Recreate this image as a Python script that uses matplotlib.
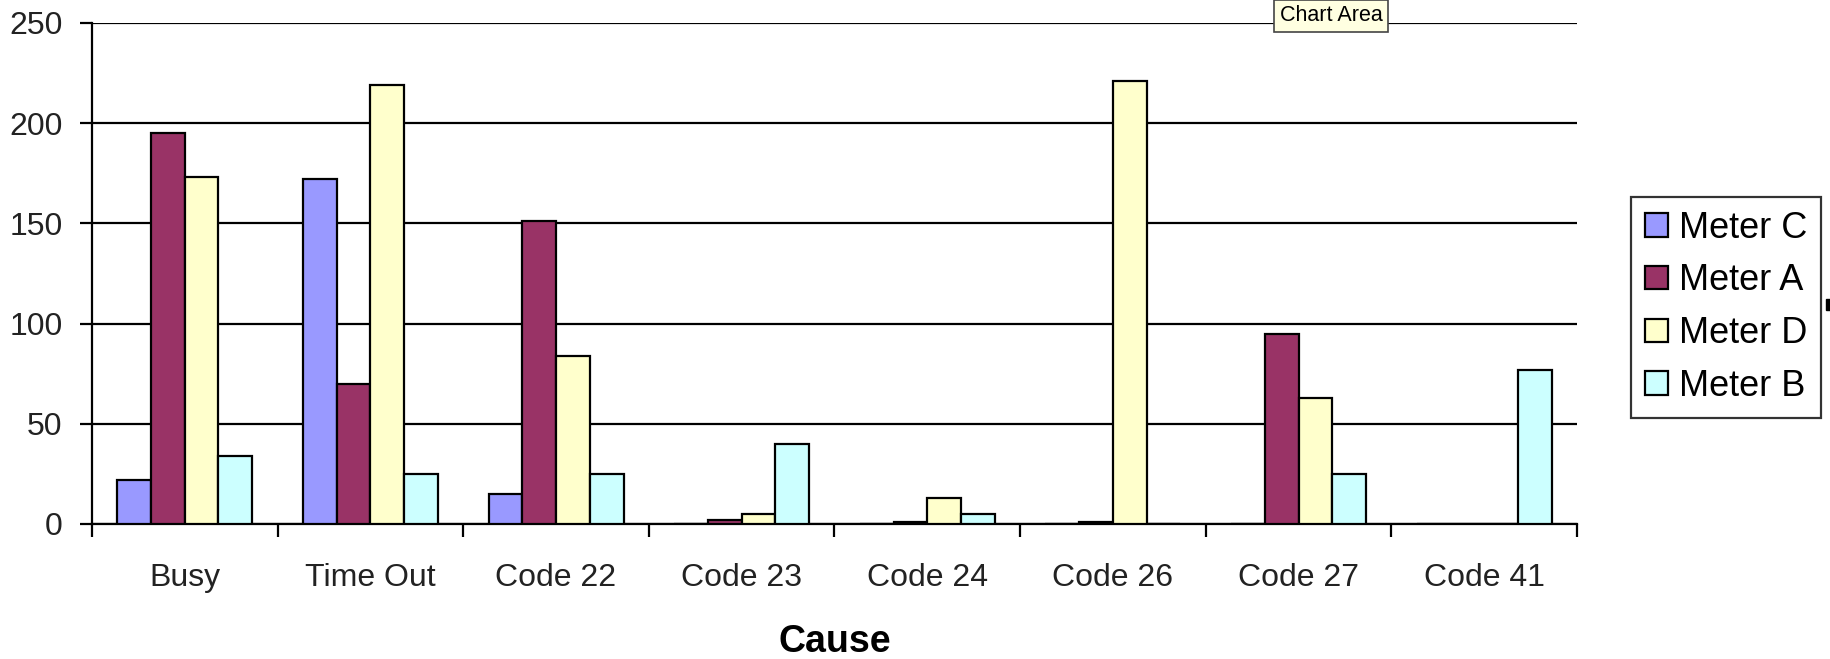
import numpy as np
import matplotlib.pyplot as plt
from matplotlib.patches import Rectangle

plt.rcParams['font.family'] = ['Liberation Sans', 'DejaVu Sans']

causes = ['Busy', 'Time Out', 'Code 22', 'Code 23', 'Code 24', 'Code 26', 'Code 27', 'Code 41']
meter_c = [22, 172, 15, 0, 0, 0, 0, 0]
meter_a = [195, 70, 151, 2, 1, 1, 95, 0]
meter_d = [173, 219, 84, 5, 13, 221, 63, 0]
meter_b = [34, 25, 25, 40, 5, 0, 25, 77]

series = [('Meter C', meter_c, '#9999FF'),
          ('Meter A', meter_a, '#993366'),
          ('Meter D', meter_d, '#FFFFCC'),
          ('Meter B', meter_b, '#CCFFFF')]

fig = plt.figure(figsize=(18.31, 6.59), dpi=100)
ax = fig.add_axes([0.0502, 0.2049, 0.8111, 0.7602])

x = np.arange(len(causes))
w = 1 / 5.5
for i, (name, vals, col) in enumerate(series):
    ax.bar(x + (i - 1.5) * w, vals, w, color=col, edgecolor='black',
           linewidth=1.6, label=name, zorder=3)

ax.set_xlim(-0.5, len(causes) - 0.5)
ax.set_ylim(0, 250)
ax.set_yticks(range(0, 251, 50))
ax.grid(axis='y', color='black', linewidth=1.6, zorder=0)
ax.set_axisbelow(True)

ax.set_xticks(x)
ax.set_xticklabels(causes)
ax.set_xticks(np.arange(-0.5, len(causes)), minor=True)
ax.tick_params(axis='x', which='major', length=0, pad=28, labelsize=23,
               labelcolor='#222222')
ax.tick_params(axis='x', which='minor', length=9, width=1.6, direction='out')
ax.tick_params(axis='y', length=9, width=1.6, direction='out', pad=12,
               labelsize=23, labelcolor='#222222')

for s in ['top', 'right']:
    ax.spines[s].set_visible(False)
for s in ['left', 'bottom']:
    ax.spines[s].set_linewidth(1.6)

ax.set_xlabel('Cause', fontsize=27, fontweight='bold')
ax.xaxis.set_label_coords(0.5, -0.236)
ax.xaxis.label.set_va('center')

leg = fig.legend(loc='upper left', bbox_to_anchor=(0.8908, 0.701),
                 borderaxespad=0, fontsize=26, frameon=True, fancybox=False,
                 handlelength=0.64, handleheight=0.62, handletextpad=0.3,
                 labelspacing=0.49, borderpad=0.38)
leg.get_frame().set_edgecolor('black')
leg.get_frame().set_linewidth(1.6)

fig.text(0.727, 0.976, 'Chart Area', ha='center', va='center', fontsize=15.5,
         bbox=dict(boxstyle='square,pad=0.25', facecolor='#FFFFE1',
                   edgecolor='#444444', linewidth=1.2))

fig.patches.append(Rectangle((0.9975, 0.530), 0.0025, 0.016,
                             transform=fig.transFigure, color='black'))

fig.savefig('out.png', dpi=100)
